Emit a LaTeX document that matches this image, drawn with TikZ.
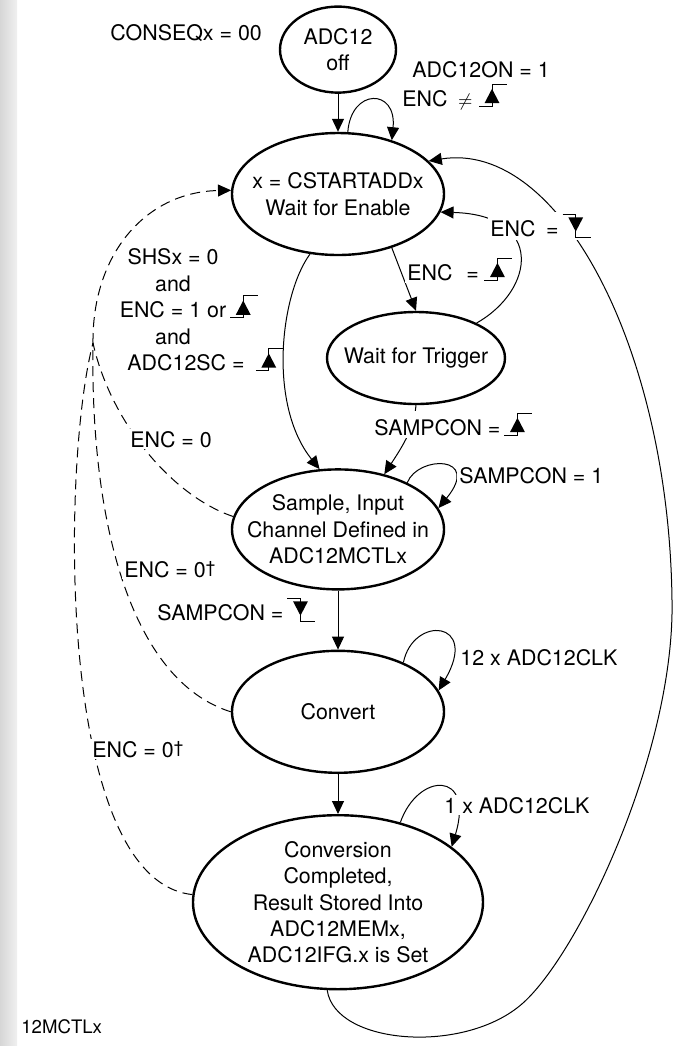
\documentclass[tikz,border=0pt]{standalone}
\usepackage{fontspec}
\setmainfont{TeX Gyre Heros}
\usetikzlibrary{shapes.geometric,positioning,arrows.meta}

% edge marks used in the transition labels
\newcommand{\risingedge}{\tikz[baseline=0pt,x=1pt,y=1pt]{%
  \draw[black,line width=0.5pt] (0,0) -- (6.5,0) -- (6.5,11) -- (14,11);
  \fill[black] (6.5,8.6) -- (2.8,1.5) -- (10.2,1.5) -- cycle;}}
\newcommand{\fallingedge}{\tikz[baseline=0pt,x=1pt,y=1pt]{%
  \draw[black,line width=0.5pt] (0,11) -- (6.5,11) -- (6.5,-0.5) -- (14,-0.5);
  \fill[black] (6.5,2.2) -- (2.8,9.3) -- (10.2,9.3) -- cycle;}}
\newcommand{\dagmark}{\raisebox{2pt}{\fontsize{8.5pt}{8.5pt}\selectfont †}}

\tikzset{
  stat/.style={ellipse,draw,line width=1.2pt,inner xsep=-10pt,inner ysep=-1pt,align=center},
  lbl/.style={anchor=base west,fill=white,inner sep=1pt},
  trans/.style={->,line width=0.5pt},
  abort/.style={line width=0.5pt,dash pattern=on 5pt off 3pt},
  >={Triangle[length=6.5pt,width=6pt]},
}

\begin{document}
\begin{tikzpicture}[
  x=0.5pt,y=-0.5pt,
  every node/.style={font=\fontsize{10.7pt}{13.2pt}\selectfont}
]
\useasboundingbox (0,0) rectangle (685,1046);
\shade[left color=gray!32,right color=gray!12] (0,0) rectangle (17,1046);

% states
\node[stat,minimum width=106pt,minimum height=61pt] (wait) at (338,194) {x = CSTARTADDx\\Wait for Enable};
\node[stat,minimum width=58pt,minimum height=43pt,above=19pt of wait] (off) {ADC12\\off};
\node[stat,minimum width=89pt,minimum height=46pt] (trig) at (416,358) {Wait for Trigger};
\node[stat,minimum width=106pt,minimum height=60pt,below=106pt of wait] (samp) {Sample, Input\\Channel Defined in\\ADC12MCTLx};
\node[stat,minimum width=106pt,minimum height=61pt,below=29.5pt of samp] (conv) {Convert};
\node[stat,minimum width=145pt,minimum height=87pt,below=20pt of conv] (done) {Conversion\\Completed,\\Result Stored Into\\ADC12MEMx,\\ADC12IFG.x is Set};

\coordinate (merge) at (93,343);

% transitions
\draw[trans] (off) -- (wait);
\draw[trans] (wait.81) .. controls (351,88) and (397,88) .. (wait.45);
\draw[trans] (done.263) .. controls (335,1045) and (465,1055) .. (523,1003)
  .. controls (580,952) and (675,750) .. (672,600)
  .. controls (669,350) and (560,140) .. (wait.20);
\draw[trans] (trig.30) .. controls (535,290) and (545,215) .. (wait.-10);
\draw[trans] (wait.-45) -- (trig.north);
\draw[trans] (wait.-115) .. controls (280,295) and (268,405) .. (samp.107);
\draw[trans] (trig.south) .. controls (414,430) and (400,450) .. (samp.50);
\draw[trans] (samp.34) .. controls (418,455) and (482,455) .. (samp.12);
\draw[trans] (samp) -- (conv);
\draw[trans] (conv.37) .. controls (413,615) and (480,620) .. (conv.12);
\draw[trans] (conv) -- (done);
\draw[trans] (done.52) .. controls (418,772) and (475,770) .. (done.26);

% ENC = 0 paths
\draw[abort,->] (merge) .. controls (92,255) and (145,192) .. (wait.178);
\draw[abort] (samp.173) .. controls (170,495) and (110,420) .. (merge);
\draw[abort] (conv.west) .. controls (130,680) and (90,520) .. (merge);
\draw[abort] (done.177) .. controls (55,880) and (62,460) .. (merge);

% labels
\node[lbl] (lbseq) at (108,40) {CONSEQx = 00};
\node[lbl] (lbon) at (410,77) {ADC12ON = 1};
\node[lbl] (lbne) at (400,106) {ENC\enspace{\small$\neq$}\ \risingedge};
\node[lbl] (lbfall) at (488,236) {ENC\enspace=\,\fallingedge};
\node[lbl] (lbrise) at (405,280) {ENC\hspace{7pt}=\hspace{2.5pt}\risingedge};
\node[align=center,inner sep=1pt] (lbshs) at (173,310)
  {SHSx = 0\\and\\ENC = 1 or\rlap{\,\risingedge}\\and\\\hspace*{13pt}ADC12SC =\rlap{\enspace\risingedge}};
\node[lbl] (lbsrise) at (372,435) {SAMPCON =\,\risingedge};
\node[lbl] (lbsone) at (457,483) {SAMPCON = 1};
\node[lbl] (lbencz) at (128,447) {ENC = 0};
\node[lbl] (lbsfall) at (155,620) {SAMPCON =\,\fallingedge};
\node[lbl] (lbdaga) at (122,577) {ENC = 0\dagmark};
\node[lbl] (lbclkt) at (458,665) {12 x ADC12CLK};
\node[lbl] (lbdagb) at (90,757) {ENC = 0\dagmark};
\node[lbl] (lbclko) at (442,813) {1 x ADC12CLK};
\node[lbl,font=\fontsize{9.3pt}{11pt}\selectfont] (lbmctl) at (19,1033) {12MCTLx};
\end{tikzpicture}
\end{document}
